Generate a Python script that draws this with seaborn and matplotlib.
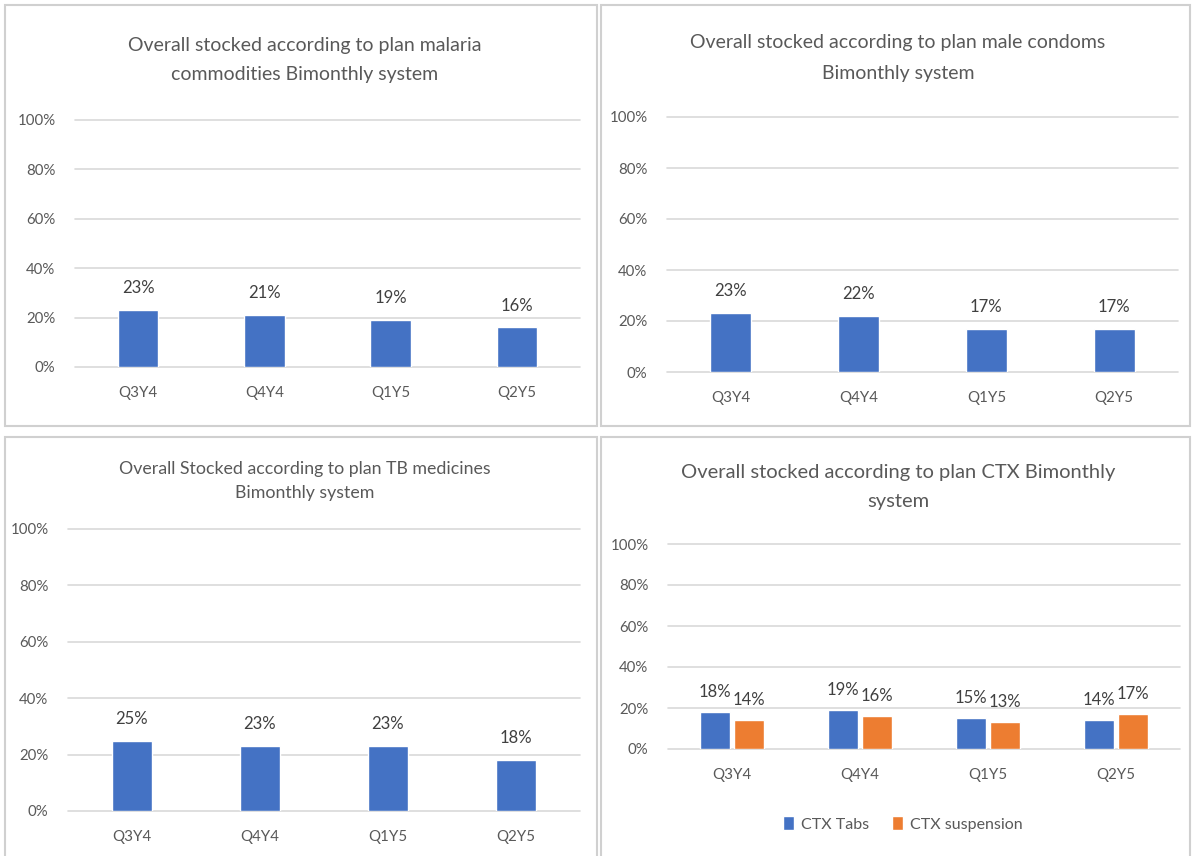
import matplotlib
matplotlib.use("Agg")
import matplotlib.pyplot as plt
from matplotlib.patches import Rectangle
from matplotlib.ticker import PercentFormatter
import pandas as pd
import seaborn as sns

# Reporting quarters
quarters = ["Q3Y4", "Q4Y4", "Q1Y5", "Q2Y5"]

# Share of facilities stocked according to plan (fraction)
malaria = [0.23, 0.21, 0.19, 0.16]
condoms = [0.23, 0.22, 0.17, 0.17]
tb_medicines = [0.25, 0.23, 0.23, 0.18]
ctx_tabs = [0.18, 0.19, 0.15, 0.14]
ctx_suspension = [0.14, 0.16, 0.13, 0.17]
ctx_series = ["CTX Tabs", "CTX suspension"]

titles = [
    "Overall stocked according to plan malaria\ncommodities Bimonthly system",
    "Overall stocked according to plan male condoms\nBimonthly system",
    "Overall Stocked according to plan TB medicines\nBimonthly system",
    "Overall stocked according to plan CTX Bimonthly\nsystem",
]

BLUE = "#4472C4"
ORANGE = "#ED7D31"
GRID = "#d9d9d9"
TEXT = "#595959"
LABEL = "#404040"

sns.set_theme(style="white")
plt.rcParams["font.family"] = ["Lato", "DejaVu Sans"]

W, H = 1192, 856
fig = plt.figure(figsize=(W / 100, H / 100), dpi=100)


def px_axes(x0, y0, x1, y1):
    """Axes from pixel box (top-left origin)."""
    return fig.add_axes([x0 / W, 1 - y1 / H, (x1 - x0) / W, (y1 - y0) / H])


# panel frames
for (x0, y0, x1, y1) in [(5, 5, 597, 426), (601, 5, 1190, 426),
                         (5, 437, 597, 870), (601, 437, 1190, 870)]:
    fig.add_artist(Rectangle((x0 / W, 1 - y1 / H), (x1 - x0) / W, (y1 - y0) / H,
                             transform=fig.transFigure, fill=False,
                             edgecolor="#d0d0d0", linewidth=1.5))


def style_axes(ax, tick_size=10.8):
    ax.set_ylim(0, 1)
    ax.set_yticks([0, 0.2, 0.4, 0.6, 0.8, 1.0])
    ax.yaxis.set_major_formatter(PercentFormatter(1.0, decimals=0))
    ax.grid(axis="y", color=GRID, linewidth=1.2)
    ax.set_axisbelow(True)
    for s in ax.spines.values():
        s.set_visible(False)
    ax.tick_params(axis="both", length=0, labelsize=tick_size, colors=TEXT)
    ax.tick_params(axis="y", pad=14)
    ax.tick_params(axis="x", pad=14)
    ax.set_xlabel("")
    ax.set_ylabel("")
    for gl in ax.get_ygridlines():
        gl.set_clip_on(False)


def single_panel(ax, values, width=0.32):
    df = pd.DataFrame({"quarter": quarters, "value": values})
    sns.barplot(data=df, x="quarter", y="value", color=BLUE, saturation=1,
                width=width, ax=ax, errorbar=None)
    style_axes(ax)
    for c in ax.containers:
        ax.bar_label(c, labels=[f"{v:.0%}" for v in c.datavalues],
                     padding=10, fontsize=12, color=LABEL)


ax1 = px_axes(75, 120, 580, 367)
single_panel(ax1, malaria)
ax2 = px_axes(667, 117, 1178, 372)
single_panel(ax2, condoms)
ax3 = px_axes(68, 529, 580, 811)
single_panel(ax3, tb_medicines)

ax4 = px_axes(668, 544, 1180, 749)
df_ctx = pd.DataFrame({
    "quarter": quarters * 2,
    "series": [ctx_series[0]] * 4 + [ctx_series[1]] * 4,
    "value": ctx_tabs + ctx_suspension,
})
sns.barplot(data=df_ctx, x="quarter", y="value", hue="series",
            palette=[BLUE, ORANGE], saturation=1, width=0.54, gap=0.12,
            ax=ax4, errorbar=None)
style_axes(ax4)
for c in ax4.containers:
    ax4.bar_label(c, labels=[f"{v:.0%}" for v in c.datavalues],
                  padding=9, fontsize=12, color=LABEL)
handles, labels = ax4.get_legend_handles_labels()
ax4.get_legend().remove()
fig.legend(handles, labels, loc="center", bbox_to_anchor=(903 / W, 1 - 824 / H),
           ncol=2, frameon=False, fontsize=11.5, labelcolor=TEXT,
           handlelength=0.7, handleheight=0.9, handletextpad=0.45,
           columnspacing=1.4)

# panel titles: centre x, centre y (pixels), size, line spacing
title_specs = [(305, 60, 14, 1.8), (898, 58, 14, 1.95),
               (305, 481, 12.8, 1.65), (898, 487, 14.5, 1.9)]
for t, (cx, cy, fs, ls) in zip(titles, title_specs):
    fig.text(cx / W, 1 - cy / H, t, ha="center", va="center", fontsize=fs,
             color=TEXT, linespacing=ls)

fig.savefig("out.png", dpi=100)
